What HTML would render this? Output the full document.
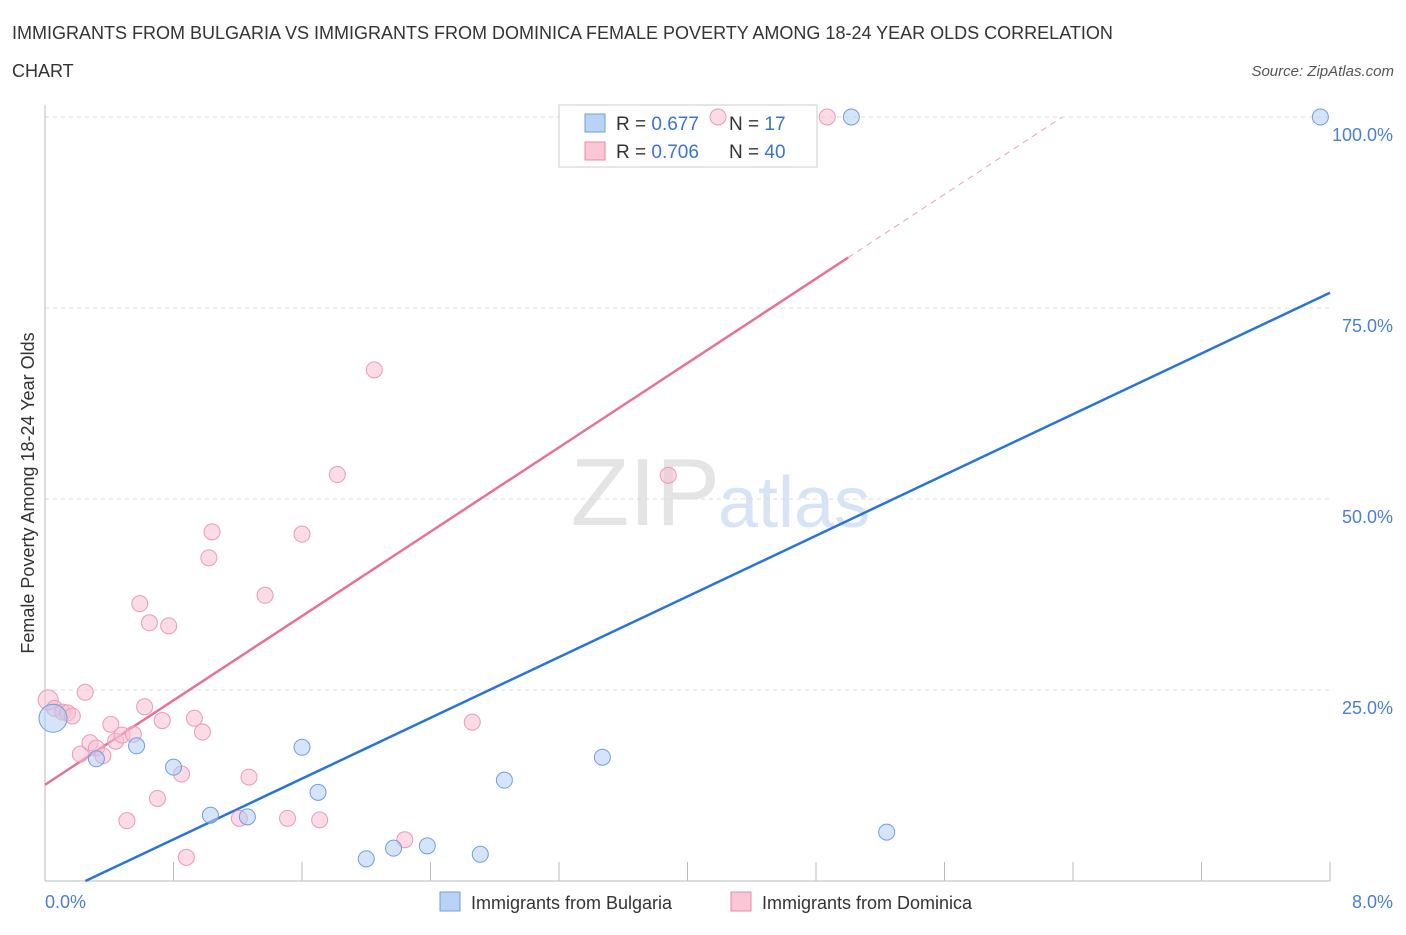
<!DOCTYPE html>
<html><head><meta charset="utf-8"><style>
body{margin:0;background:#fff;font-family:"Liberation Sans",sans-serif;}
svg text{font-family:"Liberation Sans",sans-serif;}
</style></head><body>
<svg id="c" width="1406" height="930" xmlns="http://www.w3.org/2000/svg">
<text x="12" y="39" font-size="18" fill="#333">IMMIGRANTS FROM BULGARIA VS IMMIGRANTS FROM DOMINICA FEMALE POVERTY AMONG 18-24 YEAR OLDS CORRELATION</text>
<text x="12" y="77" font-size="18" fill="#333">CHART</text>
<text x="1394" y="76" font-size="15" fill="#555" font-style="italic" text-anchor="end">Source: ZipAtlas.com</text>
<text x="720" y="525" font-size="96" fill="#e4e4e4" text-anchor="end" font-family="Liberation Serif">ZIP</text>
<text x="718" y="527" font-size="72" fill="#d6e4f6">atlas</text>
<g id="grid"></g>
<line x1="45" y1="105" x2="45" y2="881" stroke="#bbb"/>
<line x1="45" y1="881" x2="1330" y2="881" stroke="#bbb"/>
<text transform="translate(34,493) rotate(-90)" font-size="18" fill="#333" text-anchor="middle">Female Poverty Among 18-24 Year Olds</text>
<text x="45" y="908" font-size="18" fill="#4a7fd4">0.0%</text>
<text x="1393" y="908" font-size="18" fill="#4a7fd4" text-anchor="end">8.0%</text>
<g>
<rect x="559" y="105" width="258" height="62" fill="#fff" stroke="#ccc"/>
<rect x="585" y="114" width="20" height="18" fill="#b9d3f6" stroke="#6f9de0"/>
<rect x="585" y="142" width="20" height="18" fill="#f9c7d6" stroke="#e98aa8"/>
<text x="616" y="130" font-size="19" fill="#333">R = <tspan fill="#3a74d0">0.677</tspan></text>
<text x="729" y="130" font-size="19" fill="#333">N = <tspan fill="#3a74d0">17</tspan></text>
<text x="616" y="158" font-size="19" fill="#333">R = <tspan fill="#3a74d0">0.706</tspan></text>
<text x="729" y="158" font-size="19" fill="#333">N = <tspan fill="#3a74d0">40</tspan></text>
</g>
<g id="lines"></g>
<g id="pts"></g>
<g><rect x="440" y="892" width="20" height="19" fill="#b9d3f6" stroke="#6f9de0"/><text x="471" y="909" font-size="18" fill="#333">Immigrants from Bulgaria</text></g>
<g><rect x="731" y="892" width="20" height="19" fill="#f9c7d6" stroke="#e98aa8"/><text x="762" y="909" font-size="18" fill="#333">Immigrants from Dominica</text></g>
</svg>
<script>
const blueX=[0.05,0.32,0.57,0.80,1.03,1.26,1.60,1.70,2.00,2.17,2.38,2.71,2.86,3.47,5.02,5.24,7.94];
const blueY=[21.3,16.0,17.7,14.9,8.6,8.4,17.5,11.6,2.9,4.3,4.6,3.5,13.2,16.2,100,6.4,100];
const pinkX=[0.02,0.06,0.11,0.14,0.17,0.22,0.25,0.28,0.32,0.36,0.41,0.44,0.48,0.51,0.55,0.59,0.62,0.65,0.70,0.73,0.77,0.85,0.88,0.93,0.98,1.02,1.04,1.21,1.27,1.37,1.51,1.60,1.71,1.82,2.05,2.24,2.66,3.88,4.19,4.87];
const pinkY=[23.7,22.6,22.1,22.0,21.6,16.6,24.7,18.1,17.4,16.4,20.5,18.3,19.1,7.9,19.2,36.3,22.8,33.8,10.8,21.0,33.4,14.0,3.1,21.3,19.5,42.3,45.7,8.2,13.6,37.4,8.2,45.4,8.0,53.2,66.9,5.4,20.8,53.1,100,100];
const blueLine=[-2.5,77.0];
const pinkLine=[12.6,13.8];
const yTicks=[25,50,75,100];
const xTicks=[0,0.8,1.6,2.4,3.2,4.0,4.8,5.6,6.4,7.2,8.0];
const NS="http://www.w3.org/2000/svg";
const sx=v=>45+v*160.625, sy=v=>881-v*7.64;
function mk(t,a,p){const e=document.createElementNS(NS,t);for(const k in a)e.setAttribute(k,a[k]);p.appendChild(e);return e;}
const g=document.getElementById('grid');
yTicks.forEach(t=>{
 const l=mk('line',{x1:45,x2:1330,y1:sy(t),y2:sy(t),stroke:'#ddd','stroke-dasharray':'4,4'},g);
 
 
 const tx=mk('text',{x:1393,y:sy(t)+24,'font-size':18,fill:'#4a7fd4','text-anchor':'end'},g);
 tx.textContent=t.toFixed(1)+'%';
 
 
});
xTicks.forEach(t=>{
 const l=mk('line',{x1:sx(t),x2:sx(t),y1:862,y2:881,stroke:'#bbb'},g);
 
 
});
const L=document.getElementById('lines');
const bSlope=(blueLine[1]-blueLine[0])/8;
const bStart=Math.max(0,-blueLine[0]/bSlope);
let b=mk('line',{x1:sx(bStart),y1:sy(blueLine[0]+bSlope*bStart),x2:sx(8),y2:sy(blueLine[1]),stroke:'#2a73d9','stroke-width':2.5},L);


const pEnd=5.0, pTop=(100-pinkLine[0])/pinkLine[1];
let p=mk('line',{x1:sx(0),y1:sy(pinkLine[0]),x2:sx(pEnd),y2:sy(pinkLine[0]+pinkLine[1]*pEnd),stroke:'#e8709a','stroke-width':2.5},L);


let pd=mk('line',{x1:sx(pEnd),y1:sy(pinkLine[0]+pinkLine[1]*pEnd),x2:sx(pTop),y2:sy(100),stroke:'#e8a0b8','stroke-width':1,'stroke-dasharray':'6,5'},L);


const P=document.getElementById('pts');
pinkX.forEach((x,i)=>{
 const c=mk('circle',{cx:sx(x),cy:sy(pinkY[i]),r:i==0?10:8,fill:'rgba(248,190,210,0.55)',stroke:'#eb9ab6','stroke-width':1},P);
 
 
});
blueX.forEach((x,i)=>{
 const c=mk('circle',{cx:sx(x),cy:sy(blueY[i]),r:i==0?14:8,fill:'rgba(180,206,244,0.55)',stroke:'#6f9de0','stroke-width':1},P);
 
 
});
</script>
</body></html>
